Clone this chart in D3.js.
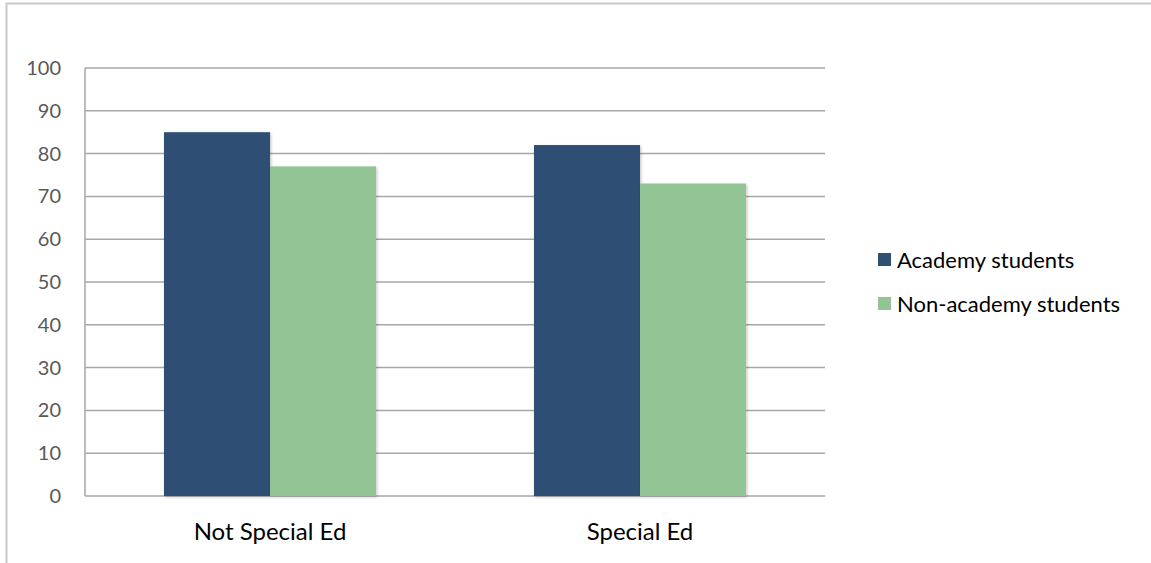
<!DOCTYPE html>
<html>
<head>
<meta charset="utf-8">
<script src="https://cdn.jsdelivr.net/npm/d3@7"></script>
<style>
  body { margin: 0; background: #fff; }
  text { font-family: Lato, "Open Sans", sans-serif; }
</style>
</head>
<body>
<div id="chart"></div>
<script>
// chart data
var categories = ["Not Special Ed", "Special Ed"];
var seriesNames = ["Academy students", "Non-academy students"];
var academy = [85, 82];
var nonAcademy = [77, 73];
var yTicks = [0, 10, 20, 30, 40, 50, 60, 70, 80, 90, 100];
var colors = ["#2E5073", "#92C496"];

var width = 1151, height = 563;
var margin = {top: 68, right: 326, bottom: 67, left: 85};

var svg = d3.select("#chart").append("svg")
  .attr("width", width)
  .attr("height", height);

// outer frame (only top and left edges show)
svg.append("path")
  .attr("d", "M6.5,563 V3.5 H1151")
  .attr("fill", "none")
  .attr("stroke", "#c8c8c8")
  .attr("stroke-width", 2);

var x0 = d3.scaleBand()
  .domain(categories)
  .range([margin.left, width - margin.right])
  .paddingInner(0)
  .paddingOuter(0);

var x1 = d3.scaleBand()
  .domain(seriesNames)
  .range([0, x0.bandwidth() * 0.573])
  .padding(0);

var y = d3.scaleLinear()
  .domain([0, 100])
  .range([height - margin.bottom, margin.top]);

// gridlines
svg.append("g")
  .selectAll("line")
  .data(yTicks)
  .enter().append("line")
  .attr("x1", margin.left)
  .attr("x2", width - margin.right)
  .attr("y1", d => y(d))
  .attr("y2", d => y(d))
  .attr("stroke", "#a6a6a6")
  .attr("stroke-width", 1.5);

// y axis line
svg.append("line")
  .attr("x1", margin.left).attr("x2", margin.left)
  .attr("y1", y(0)).attr("y2", y(100))
  .attr("stroke", "#a6a6a6")
  .attr("stroke-width", 1.5);

// y tick labels
svg.append("g")
  .selectAll("text")
  .data(yTicks)
  .enter().append("text")
  .attr("x", 61)
  .attr("y", d => y(d))
  .attr("dy", "0.35em")
  .attr("text-anchor", "end")
  .attr("fill", "#595959")
  .style("font-size", "20px")
  .text(d => d);

var rows = categories.map(function(c, i) {
  return {cat: c, values: [academy[i], nonAcademy[i]]};
});

var defs = svg.append("defs");
var f = defs.append("filter").attr("id", "shadow")
  .attr("x", "-10%").attr("y", "-10%").attr("width", "130%").attr("height", "130%");
f.append("feDropShadow")
  .attr("dx", 1).attr("dy", 1).attr("stdDeviation", 1.5)
  .attr("flood-color", "#000").attr("flood-opacity", 0.25);

var groups = svg.append("g")
  .selectAll("g")
  .data(rows)
  .enter().append("g")
  .attr("transform", d => "translate(" + (x0(d.cat) + (x0.bandwidth() - x1.range()[1]) / 2) + ",0)");

groups.selectAll("rect")
  .data(d => d.values.map((v, j) => ({name: seriesNames[j], value: v, color: colors[j]})))
  .enter().append("rect")
  .attr("x", d => x1(d.name))
  .attr("width", x1.bandwidth())
  .attr("y", d => y(d.value))
  .attr("height", d => y(0) - y(d.value))
  .attr("fill", d => d.color)
  .attr("filter", "url(#shadow)");

// category labels
svg.append("g")
  .selectAll("text")
  .data(categories)
  .enter().append("text")
  .attr("x", d => x0(d) + x0.bandwidth() / 2)
  .attr("y", 540)
  .attr("text-anchor", "middle")
  .attr("fill", "#000")
  .style("font-size", "24px")
  .text(d => d);

// legend
var legend = svg.append("g")
  .selectAll("g")
  .data(seriesNames)
  .enter().append("g")
  .attr("transform", (d, i) => "translate(878," + (253 + i * 44) + ")");

legend.append("rect")
  .attr("width", 13)
  .attr("height", 13)
  .attr("fill", (d, i) => colors[i]);

legend.append("text")
  .attr("x", 19)
  .attr("y", 7)
  .attr("dy", "0.35em")
  .attr("fill", "#000")
  .style("font-size", "22px")
  .text(d => d);
</script>
</body>
</html>
